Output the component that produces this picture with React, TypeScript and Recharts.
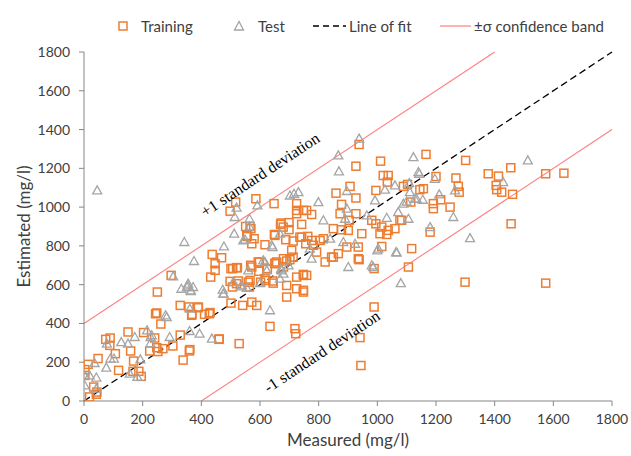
import React from 'react';
import { ScatterChart, Scatter, XAxis, YAxis, ReferenceLine, ReferenceDot, Legend } from 'recharts';

// measured vs estimated (mg/l)
const trainingPoints: [number, number][] = [
  [3, 162], [3, 132], [19, 21], [33, 72], [42, 35], [44, 46], [14, 189], [48, 219], [74, 318], [89, 325],
  [88, 287], [107, 244], [118, 158], [150, 356], [159, 258], [167, 153], [169, 206], [187, 153], [195, 127], [203, 353],
  [224, 258], [241, 325], [248, 454], [250, 562], [252, 255], [262, 397], [269, 270], [303, 284], [328, 493], [328, 340],
  [338, 211], [358, 485], [359, 258], [368, 447], [389, 485], [411, 447], [430, 456], [460, 318], [297, 648], [244, 450],
  [248, 275], [361, 265], [437, 756], [469, 739], [447, 708], [447, 674], [432, 639], [498, 979], [517, 1026], [551, 900],
  [555, 854], [507, 683], [520, 688], [506, 588], [560, 613], [461, 320], [529, 296], [367, 442], [390, 481], [427, 450],
  [501, 505], [541, 493], [572, 510], [589, 493], [634, 385], [719, 373], [722, 347], [648, 1018], [725, 1018], [725, 966],
  [759, 983], [670, 911], [699, 920], [699, 884], [649, 859], [688, 832], [713, 825], [736, 845], [756, 811], [763, 849],
  [557, 849], [572, 811], [617, 806], [598, 717], [596, 669], [625, 683], [651, 711], [568, 700], [498, 617], [520, 605],
  [566, 622], [620, 622], [643, 619], [691, 722], [702, 729], [725, 639], [691, 596], [725, 579], [748, 571], [691, 536],
  [586, 1043], [566, 900], [569, 889], [580, 837], [651, 854], [672, 918], [679, 897], [501, 683], [523, 687], [572, 691],
  [594, 717], [651, 708], [526, 619], [564, 588], [602, 613], [617, 631], [645, 608], [759, 648], [938, 1323], [927, 1211],
  [1011, 1237], [859, 1072], [907, 1107], [927, 1047], [995, 1086], [1020, 1163], [1037, 1163], [1034, 1129], [1103, 1117], [725, 983],
  [748, 983], [776, 962], [878, 1014], [927, 966], [873, 966], [742, 911], [742, 845], [776, 828], [816, 837], [850, 889],
  [878, 883], [901, 880], [904, 932], [947, 863], [981, 932], [995, 914], [1015, 897], [1037, 880], [1060, 889], [1077, 932],
  [1009, 863], [1032, 859], [657, 717], [680, 691], [748, 648], [708, 777], [680, 734], [822, 717], [844, 742], [867, 760],
  [896, 794], [935, 734], [935, 794], [805, 828], [782, 803], [1117, 786], [1106, 691], [793, 768], [713, 742], [1166, 1272],
  [1301, 1241], [1378, 1172], [1413, 1160], [1455, 1203], [1574, 1172], [1636, 1175], [1200, 1158], [1268, 1150], [1276, 1107], [1279, 1077],
  [1405, 1112], [1407, 1090], [1424, 1077], [1461, 1066], [1089, 1107], [1145, 1090], [1157, 1095], [1191, 1018], [1191, 992], [1216, 1038],
  [1248, 1000], [1114, 1026], [1083, 932], [1180, 871], [1456, 914], [1299, 613], [1574, 608], [1015, 797], [938, 729], [989, 683],
  [850, 742], [748, 653], [748, 562], [989, 485], [941, 327], [944, 183],
];

const testPoints: [number, number][] = [
  [2, 132], [2, 81], [19, 132], [42, 121], [42, 64], [36, 196], [76, 172], [78, 296], [90, 219], [102, 219],
  [127, 304], [150, 296], [156, 141], [173, 330], [182, 124], [192, 215], [215, 364], [227, 330], [227, 299], [278, 442],
  [292, 330], [360, 361], [364, 567], [394, 347], [436, 322], [476, 554], [231, 339], [282, 433], [361, 476], [45, 1086],
  [342, 820], [375, 722], [477, 797], [512, 863], [514, 949], [520, 997], [543, 828], [304, 643], [332, 579], [351, 588],
  [372, 588], [355, 605], [473, 574], [475, 554], [509, 613], [538, 596], [560, 674], [591, 1009], [564, 900], [549, 832],
  [617, 717], [623, 674], [600, 608], [640, 803], [674, 674], [697, 700], [668, 631], [634, 468], [564, 940], [716, 1069],
  [731, 1077], [611, 725], [643, 794], [672, 683], [353, 596], [364, 571], [535, 591], [555, 583], [938, 1353], [867, 1267],
  [869, 1184], [1123, 1258], [896, 1083], [1026, 1090], [702, 1060], [799, 1026], [992, 1035], [1060, 1112], [1140, 1181], [1111, 1077],
  [1100, 1029], [1089, 1018], [1071, 974], [1134, 1043], [816, 932], [896, 992], [890, 940], [964, 957], [1032, 945], [1106, 940],
  [668, 863], [770, 786], [839, 837], [884, 820], [924, 811], [1003, 786], [1064, 768], [776, 734], [901, 691], [986, 691],
  [680, 657], [1143, 1172], [1196, 1146], [1109, 1124], [1128, 1043], [1155, 1038], [1211, 1066], [1265, 1086], [1429, 1129], [1513, 1241],
  [1259, 949], [1180, 897], [1316, 840], [1066, 765], [1080, 608], [1000, 777], [981, 700],
];

const axisTicks = [0, 200, 400, 600, 800, 1000, 1200, 1400, 1600, 1800];

const fitLine = [{ x: 0, y: 0 }, { x: 1800, y: 1800 }];
const upperBand = [{ x: 0, y: 400 }, { x: 1400, y: 1800 }];
const lowerBand = [{ x: 400, y: 0 }, { x: 1800, y: 1400 }];

const notes = [
  { x: 600, y: 1168, text: '+1 standard deviation' },
  { x: 811, y: 256, text: '-1 standard deviation' },
];

const training = trainingPoints.map(([x, y]) => ({ x, y }));
const test = testPoints.map(([x, y]) => ({ x, y }));

const ORANGE = '#ED7D31';
const GREY = '#A5A5A5';
const RED = '#FF7F7F';
const AXIS = '#868686';
const FONT = 'Lato, "Open Sans", sans-serif';
const SLOPE_ANGLE = -33.5;

const SquareMark = (props: any) => {
  const { cx, cy } = props;
  return <rect x={cx - 4} y={cy - 4} width={8} height={8} fill="none" stroke={ORANGE} strokeWidth={1.5} />;
};

const TriangleMark = (props: any) => {
  const { cx, cy } = props;
  return (
    <polygon
      points={`${cx},${cy - 4.5} ${cx - 4.5},${cy + 3.5} ${cx + 4.5},${cy + 3.5}`}
      fill="none"
      stroke={GREY}
      strokeWidth={1.3}
    />
  );
};

const noteShape = (text: string) => (props: any) => {
  const { cx, cy } = props;
  return (
    <text
      x={cx}
      y={cy}
      transform={`rotate(${SLOPE_ANGLE}, ${cx}, ${cy})`}
      textAnchor="middle"
      dominantBaseline="central"
      fontFamily='"Liberation Serif", "Times New Roman", serif'
      fontSize={16}
      fill="#000"
    >
      {text}
    </text>
  );
};

const renderLegend = () => (
  <svg width={631} height={30} style={{ display: 'block' }}>
    <g fontFamily={FONT} fontSize={15} fill="#404040">
      <rect x={119} y={11} width={8} height={8} fill="none" stroke={ORANGE} strokeWidth={1.5} />
      <text x={141} y={20.5}>Training</text>
      <polygon points="239,10.5 234.5,19 243.5,19" fill="none" stroke={GREY} strokeWidth={1.3} />
      <text x={258} y={20.5}>Test</text>
      <line x1={313} y1={15} x2={346} y2={15} stroke="#000" strokeWidth={1.3} strokeDasharray="6 4" />
      <text x={349} y={20.5}>Line of fit</text>
      <line x1={440} y1={15} x2={471} y2={15} stroke={RED} strokeWidth={1.2} />
      <text x={474} y={20.5}>±σ confidence band</text>
    </g>
  </svg>
);

export default function App() {
  return (
    <div style={{ position: 'absolute', left: 0, top: 0, width: 631, height: 456, background: '#fff' }}>
      <ScatterChart width={631} height={456} margin={{ top: 52, right: 19, bottom: 5, left: 24 }}>
        <XAxis
          type="number"
          dataKey="x"
          domain={[0, 1800]}
          ticks={axisTicks}
          interval={0}
          allowDataOverflow
          height={50}
          stroke={AXIS}
          tickSize={5}
          tickMargin={8}
          tick={{ fill: '#404040', fontSize: 14, fontFamily: FONT }}
          label={{ value: 'Measured (mg/l)', position: 'insideBottom', offset: 5, fill: '#404040', fontSize: 17, fontFamily: FONT }}
        />
        <YAxis
          type="number"
          dataKey="y"
          domain={[0, 1800]}
          ticks={axisTicks}
          interval={0}
          allowDataOverflow
          width={60}
          stroke={AXIS}
          tickSize={5}
          tickMargin={9}
          tick={{ fill: '#404040', fontSize: 14, fontFamily: FONT }}
          label={{
            value: 'Estimated (mg/l)',
            angle: -90,
            position: 'insideLeft',
            offset: 0,
            fill: '#404040',
            fontSize: 17,
            fontFamily: FONT,
            style: { textAnchor: 'middle' },
          }}
        />
        <Legend content={renderLegend} verticalAlign="middle" align="center" wrapperStyle={{ top: 11, left: 0, width: 631 }} />
        <Scatter name="Training" data={training} shape={SquareMark} isAnimationActive={false} />
        <Scatter name="Test" data={test} shape={TriangleMark} isAnimationActive={false} />
        <ReferenceLine segment={upperBand} stroke={RED} strokeWidth={1.1} ifOverflow="visible" />
        <ReferenceLine segment={lowerBand} stroke={RED} strokeWidth={1.1} ifOverflow="visible" />
        <ReferenceLine segment={fitLine} stroke="#000" strokeWidth={1.3} strokeDasharray="7 4" ifOverflow="visible" />
        {notes.map((n) => (
          <ReferenceDot key={n.text} x={n.x} y={n.y} r={0} ifOverflow="visible" shape={noteShape(n.text)} />
        ))}
      </ScatterChart>
    </div>
  );
}
